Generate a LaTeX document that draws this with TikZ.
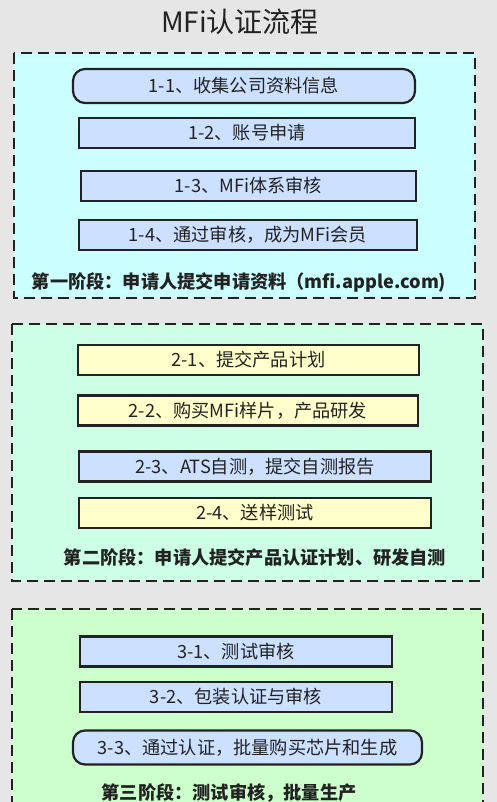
\documentclass[tikz,border=0pt]{standalone}
\usepackage{fontspec}
\setmainfont{Noto Sans CJK SC}
\usepackage{tikz}

\definecolor{bggray}{HTML}{E6E6E6}
\definecolor{cyanzone}{HTML}{CCFFFF}
\definecolor{mintzone}{HTML}{CCFFE6}
\definecolor{greenzone}{HTML}{CCFFCC}
\definecolor{stepblue}{HTML}{CCE0FF}
\definecolor{stepyellow}{HTML}{FFFFCC}
\definecolor{inkdark}{HTML}{222222}

\begin{document}
\begin{tikzpicture} [x=1pt, y=-1pt,
                zone/.style = {draw=inkdark, line width=2.6pt,
                    dash pattern=on 11pt off 6pt},
                stepbox/.style = {draw=inkdark, line width=2.2pt,
                    minimum height=30pt, inner sep=0pt,
                    font=\fontsize{18.2}{18.2}\selectfont, text=inkdark},
                bluestep/.style = {stepbox, fill=stepblue},
                yellowstep/.style = {stepbox, fill=stepyellow},
                roundstep/.style = {bluestep, rounded corners=12pt,
                    minimum height=34pt},
                zonelabel/.style = {font=\fontsize{18.2}{18.2}\selectfont\bfseries,
                    text=inkdark, inner sep=0pt}]

            \useasboundingbox (0,0) rectangle (497,802);
            \fill [bggray] (0,0) rectangle (497,802);
            \clip (0,0) rectangle (497,802);

            % Title
            \node (title) [font=\fontsize{28}{28}\selectfont, text=inkdark]
                at (240,22) {MFi认证流程};

            % Stage frames
            \draw [zone, fill=cyanzone]  (14,53)  rectangle (475,298);
            \draw [zone, fill=mintzone]  (12,324) rectangle (483,581);
            \draw [zone, fill=greenzone] (12,609) rectangle (483,840);

            % Step 1-1
            \node (s11) [roundstep, minimum width=342pt]
                at (244,86) {1-1、收集公司资料信息};

            % Step 1-2
            \node (s12) [bluestep, minimum width=336pt]
                at (247,133) {1-2、账号申请};

            % Step 1-3
            \node (s13) [bluestep, minimum width=335pt]
                at (248.5,186) {1-3、MFi体系审核};

            % Step 1-4
            \node (s14) [bluestep, minimum width=338pt]
                at (248,235) {1-4、通过审核，成为MFi会员};

            % Stage 1 label
            \node (stage1) [zonelabel]
                at (239,282) {第一阶段：申请人提交申请资料（mfi.apple.com)};

            % Step 2-1
            \node (s21) [yellowstep, minimum width=341pt]
                at (248.5,360) {2-1、提交产品计划};

            % Step 2-2
            \node (s22) [yellowstep, minimum width=340pt]
                at (248,410.5) {2-2、购买MFi样片，产品研发};

            % Step 2-3
            \node (s23) [bluestep, minimum width=352pt]
                at (255,466.5) {2-3、ATS自测，提交自测报告};

            % Step 2-4
            \node (s24) [yellowstep, minimum width=352pt]
                at (255,513) {2-4、送样测试};

            % Stage 2 label
            \node (stage2) [zonelabel]
                at (255,558) {第二阶段：申请人提交产品认证计划、研发自测};

            % Step 3-1
            \node (s31) [bluestep, minimum width=312pt]
                at (236,651.5) {3-1、测试审核};

            % Step 3-2
            \node (s32) [bluestep, minimum width=312pt]
                at (236,697) {3-2、包装认证与审核};

            % Step 3-3
            \node (s33) [roundstep, minimum width=349pt]
                at (247.5,747.5) {3-3、通过认证，批量购买芯片和生成};

            % Stage 3 label
            \node (stage3) [zonelabel]
                at (229,793) {第三阶段：测试审核，批量生产};
\end{tikzpicture}
\end{document}
